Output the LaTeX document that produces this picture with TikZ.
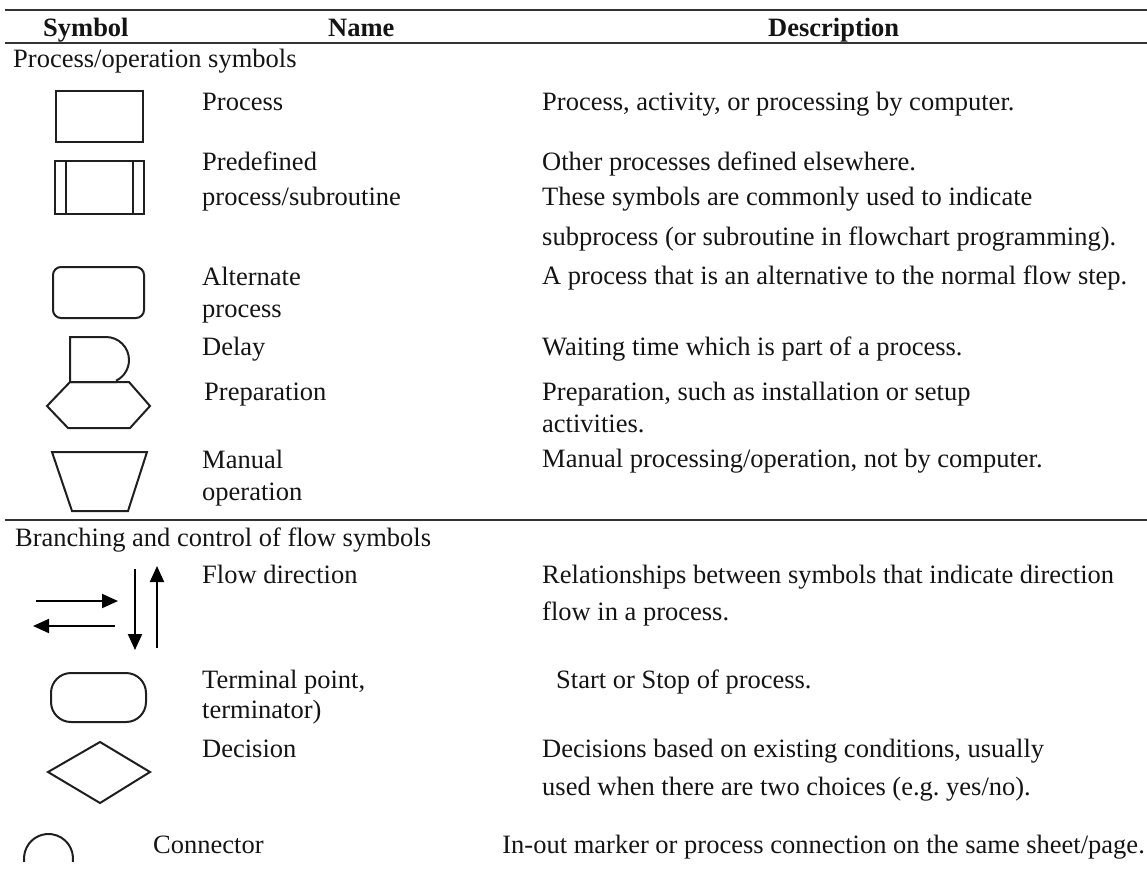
\documentclass[tikz,border=0pt]{standalone}
\usepackage{fontspec}
\setmainfont{Liberation Serif}
\usetikzlibrary{arrows.meta}
\frenchspacing
\begin{document}
\begin{tikzpicture}[x=1pt,y=-1pt,
  txt/.style={anchor=base west, inner sep=0pt, text=black!92, font=\fontsize{26.5}{30}\selectfont},
  hdr/.style={anchor=base west, inner sep=0pt, text=black!92, font=\fontsize{26.5}{30}\selectfont\bfseries},
  sym/.style={line width=2pt, draw=black!88, line join=miter},
  tablerule/.style={line width=1.5pt, draw=black!80},
  flowarrow/.style={line width=2pt, -{Triangle[length=16pt,width=14pt]}}]
\useasboundingbox (0,0) rectangle (1147,871);
% rules
\draw[tablerule] (5,10) -- (1147,10);
\draw[tablerule] (5,43) -- (1147,43);
\draw[tablerule] (5,520) -- (1147,520);
% headers
\node[hdr] (hsym) at (43,36) {Symbol};
\node[hdr] (hname) at (328,36) {Name};
\node[hdr] (hdesc) at (768,36) {Description};
% section 1
\node[txt] (sec1) at (13,67) {Process/operation symbols};
% Process
\draw[sym] (56,91) rectangle (143,142);
\node[txt] (n1) at (202,110) {Process};
\node[txt] (d1) at (542,110) {Process, activity, or processing by computer.};
% Predefined
\draw[sym] (55,161) rectangle (144,214);
\draw[sym, line width=1.8pt] (66,161) -- (66,214);
\draw[sym, line width=1.8pt] (133,161) -- (133,214);
\node[txt] (n2a) at (202,170) {Predefined};
\node[txt] (n2b) at (202,205) {process/subroutine};
\node[txt] (d2a) at (542,170) {Other processes defined elsewhere.};
\node[txt] (d2b) at (542,205) {These symbols are commonly used to indicate};
\node[txt] (d2c) at (542,245) {subprocess (or subroutine in flowchart programming).};
% Alternate
\draw[sym, rounded corners=8pt] (53,267) rectangle (144,318);
\node[txt] (n3a) at (202,285) {Alternate};
\node[txt] (n3b) at (202,317) {process};
\node[txt] (d3) at (542,284) {A process that is an alternative to the normal flow step.};
% Delay
\draw[sym] (117,382) -- (70,382) -- (70,337) -- (106,337) arc[start angle=-90, end angle=64, radius=23];
\node[txt] (n4) at (202,355) {Delay};
\node[txt] (d4) at (542,355) {Waiting time which is part of a process.};
% Preparation
\draw[sym] (47,406) -- (70,382) -- (129,382) -- (150,406) -- (130,428) -- (68,428) -- cycle;
\node[txt] (n5) at (204,400) {Preparation};
\node[txt] (d5a) at (542,400) {Preparation, such as installation or setup};
\node[txt] (d5b) at (542,432) {activities.};
% Manual
\draw[sym] (52,452) -- (147,452) -- (128,511) -- (72,511) -- cycle;
\node[txt] (n6a) at (202,468) {Manual};
\node[txt] (n6b) at (202,500) {operation};
\node[txt] (d6) at (542,467) {Manual processing/operation, not by computer.};
% section 2
\node[txt] (sec2) at (15,546) {Branching and control of flow symbols};
% Flow arrows
\coordinate (ra) at (36,601); \coordinate (rb) at (118,601);
\coordinate (la) at (115,626); \coordinate (lb) at (33,626);
\coordinate (da) at (135,569); \coordinate (db) at (135,650);
\coordinate (ua) at (157,648); \coordinate (ub) at (157,566);
\draw[flowarrow] (ra) -- (rb);
\draw[flowarrow] (la) -- (lb);
\draw[flowarrow] (da) -- (db);
\draw[flowarrow] (ua) -- (ub);
\node[txt] (n7) at (202,583) {Flow direction};
\node[txt] (d7a) at (542,583) {Relationships between symbols that indicate direction};
\node[txt] (d7b) at (542,620) {flow in a process.};
% Terminator
\draw[sym, rounded corners=20pt] (51,673) rectangle (146,722);
\node[txt] (n8a) at (202,688) {Terminal point,};
\node[txt] (n8b) at (202,718) {terminator)};
\node[txt] (d8) at (556,688) {Start or Stop of process.};
% Decision
\draw[sym] (48,772) -- (100,742) -- (150,772) -- (100,803) -- cycle;
\node[txt] (n9) at (202,757) {Decision};
\node[txt] (d9a) at (542,757) {Decisions based on existing conditions, usually};
\node[txt] (d9b) at (542,795) {used when there are two choices (e.g. yes/no).};
% Connector
\draw[sym] (48.5,858.5) ++(8:24.5) arc[start angle=8, end angle=-188, radius=24.5];
\node[txt] (n10) at (153,853) {Connector};
\node[txt, anchor=base east] (d10) at (1145,853) {In-out marker or process connection on the same sheet/page.};
\end{tikzpicture}
\end{document}
